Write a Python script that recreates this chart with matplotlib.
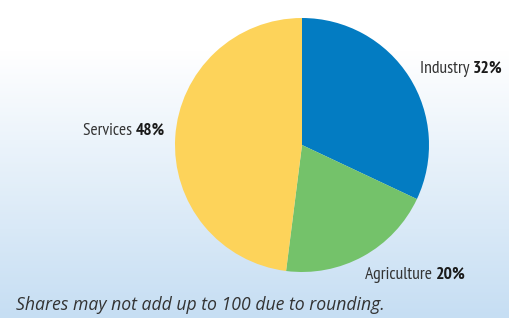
import numpy as np
import matplotlib
matplotlib.use('Agg')
import matplotlib.pyplot as plt
from matplotlib.colors import LinearSegmentedColormap

sectors = ['Industry', 'Agriculture', 'Services']
shares = [32, 20, 48]
colors = ['#037cc2', '#74c26a', '#fdd35a']
footnote = 'Shares may not add up to 100 due to rounding.'

label_font = ['PT Sans Narrow', 'DejaVu Sans']
note_font = ['Open Sans', 'DejaVu Sans']

W, H = 509, 318
fig = plt.figure(figsize=(W / 100, H / 100), dpi=100)

# background: white on top, fading into light blue
bg = fig.add_axes([0, 0, 1, 1])
bg.set_axis_off()
rows = np.linspace(0, 1, H)
grad = np.clip((rows - 50 / H) / (1 - 50 / H), 0, 1)
cmap = LinearSegmentedColormap.from_list('bg', ['#ffffff', '#c6def3'])
bg.imshow(grad[:, None], aspect='auto', cmap=cmap, extent=[0, 1, 0, 1], origin='upper')
bg.set_xlim(0, 1)
bg.set_ylim(0, 1)

# pie: centre ~ (302,145) px, radius ~127 px
r = 127
cx, cy = 302, 145
ax = fig.add_axes([(cx - r) / W, 1 - (cy + r) / H, 2 * r / W, 2 * r / H])
ax.pie(shares, colors=colors, startangle=90, counterclock=False,
       wedgeprops=dict(linewidth=0))
ax.set_xlim(-1, 1)
ax.set_ylim(-1, 1)
ax.set_aspect('equal')

fig.canvas.draw()
renderer = fig.canvas.get_renderer()


def label(x0, x1, y_px, name, pct):
    # size the pair of texts so that together they span x0..x1 pixels
    fs = 11
    t1 = fig.text(0, 0, name + ' ', fontsize=fs, color='#333333', va='center', family=label_font)
    t2 = fig.text(0, 0, f'{pct}%', fontsize=fs, color='#1a1a1a', fontweight='bold',
                  va='center', family=label_font)
    total = t1.get_window_extent(renderer).width + t2.get_window_extent(renderer).width
    fs = fs * (x1 - x0) / total
    t1.set_fontsize(fs)
    t2.set_fontsize(fs)
    w1 = t1.get_window_extent(renderer).width
    y = 1 - y_px / H
    t1.set_position((x0 / W, y))
    t2.set_position(((x0 + w1) / W, y))


label(420, 503, 69, sectors[0], shares[0])
label(365, 466, 275, sectors[1], shares[1])
label(83, 165, 131, sectors[2], shares[2])

note = fig.text(16 / W, 1 - 305 / H, footnote, fontsize=11, style='italic',
                color='#333333', va='center', family=note_font)
note.set_fontsize(11 * 368 / note.get_window_extent(renderer).width)

fig.savefig('out.png', dpi=100)
